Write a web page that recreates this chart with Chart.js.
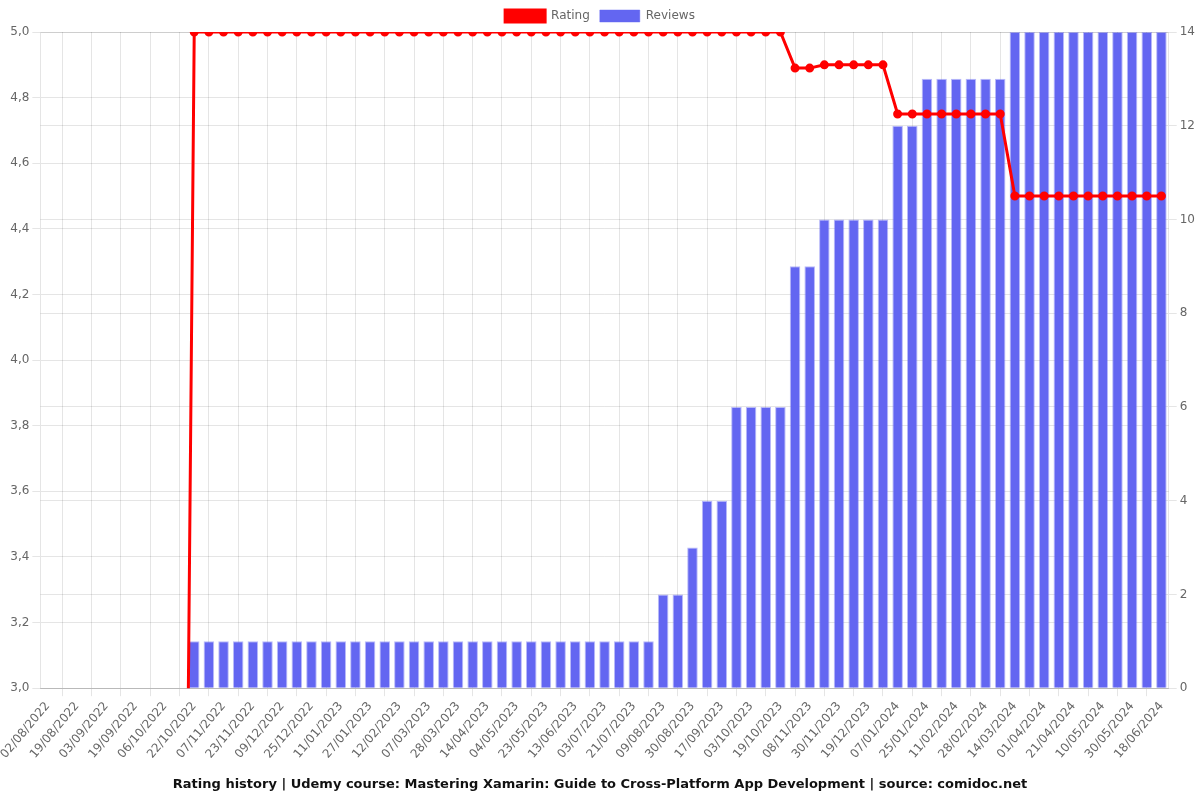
<!DOCTYPE html>
<html>
<head>
<meta charset="utf-8">
<script src="https://cdn.jsdelivr.net/npm/chart.js@4/dist/chart.umd.min.js"></script>
<style>
    body { margin: 0; background: #fff; }
    #wrap { width: 1200px; height: 800px; position: relative; }
</style>
</head>
<body>
<div id="wrap"><canvas id="rating_chart"></canvas></div>
<script>
// categories (every other one is shown on the axis)
const dates = [
    "02/08/2022", "10/08/2022", "19/08/2022", "27/08/2022", "03/09/2022", "11/09/2022",
    "19/09/2022", "28/09/2022", "06/10/2022", "14/10/2022", "22/10/2022", "30/10/2022",
    "07/11/2022", "15/11/2022", "23/11/2022", "01/12/2022", "09/12/2022", "17/12/2022",
    "25/12/2022", "03/01/2023", "11/01/2023", "19/01/2023", "27/01/2023", "04/02/2023",
    "12/02/2023", "23/02/2023", "07/03/2023", "17/03/2023", "28/03/2023", "06/04/2023",
    "14/04/2023", "24/04/2023", "04/05/2023", "13/05/2023", "23/05/2023", "02/06/2023",
    "13/06/2023", "23/06/2023", "03/07/2023", "12/07/2023", "21/07/2023", "31/07/2023",
    "09/08/2023", "19/08/2023", "30/08/2023", "08/09/2023", "17/09/2023", "25/09/2023",
    "03/10/2023", "11/10/2023", "19/10/2023", "29/10/2023", "08/11/2023", "19/11/2023",
    "30/11/2023", "09/12/2023", "19/12/2023", "29/12/2023", "07/01/2024", "16/01/2024",
    "25/01/2024", "03/02/2024", "11/02/2024", "20/02/2024", "28/02/2024", "06/03/2024",
    "14/03/2024", "23/03/2024", "01/04/2024", "11/04/2024", "21/04/2024", "01/05/2024",
    "10/05/2024", "20/05/2024", "30/05/2024", "09/06/2024", "18/06/2024"
];

const rating = [
    0, 0, 0, 0, 0, 0, 0, 0, 0, 0,
    5, 5, 5, 5, 5, 5, 5, 5, 5, 5,
    5, 5, 5, 5, 5, 5, 5, 5, 5, 5,
    5, 5, 5, 5, 5, 5, 5, 5, 5, 5,
    5, 5, 5, 5, 5, 5, 5, 5, 5, 5,
    5, 4.89, 4.89, 4.9, 4.9, 4.9, 4.9, 4.9, 4.75, 4.75,
    4.75, 4.75, 4.75, 4.75, 4.75, 4.75, 4.5, 4.5, 4.5, 4.5,
    4.5, 4.5, 4.5, 4.5, 4.5, 4.5, 4.5
];

const reviews = [
    0, 0, 0, 0, 0, 0, 0, 0, 0, 0,
    1, 1, 1, 1, 1, 1, 1, 1, 1, 1,
    1, 1, 1, 1, 1, 1, 1, 1, 1, 1,
    1, 1, 1, 1, 1, 1, 1, 1, 1, 1,
    1, 1, 2, 2, 3, 4, 4, 6, 6, 6,
    6, 9, 9, 10, 10, 10, 10, 10, 12, 12,
    13, 13, 13, 13, 13, 13, 14, 14, 14, 14,
    14, 14, 14, 14, 14, 14, 14
];

const title_text = "Rating history | Udemy course: Mastering Xamarin: Guide to Cross-Platform App Development | source: comidoc.net";

Chart.defaults.font.family = "DejaVu Sans";
Chart.defaults.font.size = 12;
Chart.defaults.color = "#666";

new Chart(document.getElementById("rating_chart").getContext("2d"), {
    type: "bar",
    data: {
        labels: dates,
        datasets: [{
            type: "line",
            label: "Rating",
            data: rating,
            yAxisID: "y",
            borderColor: "#ff0000",
            backgroundColor: "#ff0000",
            borderWidth: 3,
            pointRadius: 3,
            pointHoverRadius: 4,
            tension: 0,
            order: 0
        }, {
            type: "bar",
            label: "Reviews",
            data: reviews,
            yAxisID: "y1",
            backgroundColor: "#6366f1",
            borderColor: "rgba(99,102,241,0.45)",
            borderWidth: 1,
            order: 1
        }]
    },
    options: {
        responsive: true,
        maintainAspectRatio: false,
        animation: false,
        layout: { padding: { left: 2, right: 2, top: 0 } },
        plugins: {
            legend: {
                position: "top",
                labels: { boxWidth: 40, boxHeight: 12, color: "#666" }
            },
            title: {
                display: true,
                position: "bottom",
                text: title_text,
                color: "#111",
                font: { size: 13, weight: "bold" },
                padding: { top: 12, bottom: 8 }
            },
            tooltip: { enabled: false }
        },
        scales: {
            x: {
                ticks: { autoSkip: true }
            },
            y: {
                position: "left",
                min: 3,
                max: 5,
                ticks: {
                    stepSize: 0.2,
                    callback: function(v){ return v.toFixed(1).replace(".", ","); }
                }
            },
            y1: {
                position: "right",
                min: 0,
                max: 14,
                ticks: { stepSize: 2 }
            }
        }
    }
});
</script>
</body>
</html>
